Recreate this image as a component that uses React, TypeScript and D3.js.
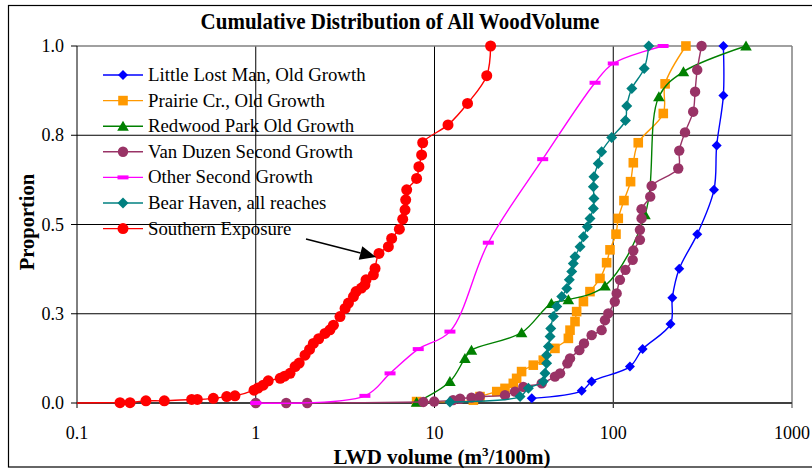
import React from "react";
import * as d3 from "d3";

type Pt = [number, number];

const xTicks = [0.1, 1, 10, 100, 1000];
const xTickLabels = ["0.1", "1", "10", "100", "1000"];
const yTicks = [0, 0.25, 0.5, 0.75, 1.0];
const yTickLabels = ["0.0", "0.3", "0.5", "0.8", "1.0"];

const littleLostMan: Pt[] = [
  [35, 0.013], [66.6, 0.034], [75.7, 0.06], [124, 0.102], [146, 0.151], [209, 0.221],
  [214, 0.295], [234, 0.376], [295, 0.473], [366, 0.597], [379, 0.721], [413, 0.861], [413, 1.0],
];
const prairieCr: Pt[] = [
  [7.94, 0.004], [16.5, 0.008], [17.97, 0.018], [22.3, 0.032], [24.8, 0.041], [27.6, 0.055],
  [28.8, 0.069], [30.7, 0.088], [35.7, 0.106], [40.6, 0.12], [47.2, 0.153], [56.1, 0.181],
  [57.3, 0.204], [61.1, 0.228], [62.4, 0.256], [68.1, 0.284], [74.1, 0.312], [84.3, 0.349],
  [91.8, 0.393], [95.9, 0.429], [103.6, 0.473], [106.7, 0.517], [114.8, 0.567], [125, 0.62],
  [129.5, 0.673], [138, 0.729], [190.5, 0.811], [195, 0.894], [255, 1.0],
];
const redwoodPark: Pt[] = [
  [7.94, 0.002], [12.2, 0.06], [14.8, 0.125], [16.1, 0.148], [30.7, 0.197], [45.1, 0.279],
  [56.1, 0.289], [89.9, 0.328], [150.5, 0.527], [180, 0.858], [247, 0.928], [553, 1.0],
];
const vanDuzen: Pt[] = [
  [1.0, 0], [1.48, 0], [1.94, 0], [8.66, 0.003], [9.96, 0.004], [12.7, 0.008], [13.9, 0.012],
  [16.1, 0.015], [17.9, 0.018], [24.8, 0.022], [28.2, 0.032], [31.4, 0.045], [39.8, 0.055],
  [47.2, 0.074], [50.4, 0.083], [55.4, 0.111], [57.3, 0.125], [64.6, 0.148], [68.6, 0.167],
  [75.7, 0.19], [86.1, 0.204], [89.9, 0.232], [93.8, 0.251], [102, 0.284], [104.5, 0.307],
  [109, 0.345], [117, 0.373], [128.5, 0.401], [129.5, 0.427], [141, 0.457], [141, 0.485],
  [144, 0.517], [144, 0.543], [161, 0.578], [164, 0.608], [231, 0.657], [234, 0.707],
  [252, 0.758], [280, 0.816], [287, 0.872], [295, 0.933], [312, 1.0],
];
const otherSecond: Pt[] = [
  [1.0, 0], [4.08, 0.02], [5.64, 0.083], [8.11, 0.151], [12.2, 0.2], [20.0, 0.449],
  [40.3, 0.683], [79.1, 0.897], [100, 0.951], [190, 1.0],
];
const bearHaven: Pt[] = [
  [12.2, 0.003], [30.1, 0.018], [33.5, 0.041], [40.6, 0.06], [41.5, 0.083], [42.4, 0.111],
  [42.4, 0.134], [43.4, 0.158], [44.3, 0.186], [44.7, 0.209], [46.2, 0.242], [48.3, 0.27],
  [51.5, 0.298], [55, 0.321], [56.8, 0.345], [58.6, 0.368], [59.8, 0.391], [61.1, 0.41],
  [65.2, 0.438], [68.1, 0.466], [71.6, 0.494], [74.1, 0.517], [77.4, 0.545], [78, 0.573],
  [77.4, 0.606], [78, 0.634], [82.4, 0.671], [86.1, 0.704], [98, 0.744], [117, 0.791],
  [119, 0.832], [127, 0.881], [149, 0.937], [158, 1.0],
];
const southernExposure: Pt[] = [
  [0.09, 0], [0.174, 0.001], [0.198, 0.001], [0.243, 0.006], [0.308, 0.006], [0.438, 0.01],
  [0.471, 0.01], [0.579, 0.013], [0.688, 0.018], [0.765, 0.02], [0.978, 0.036], [1.03, 0.042],
  [1.1, 0.05], [1.175, 0.062], [1.37, 0.069], [1.45, 0.075], [1.555, 0.083], [1.66, 0.102],
  [1.75, 0.112], [1.886, 0.134], [2.0, 0.15], [2.1, 0.167], [2.25, 0.18], [2.44, 0.195],
  [2.6, 0.205], [2.72, 0.218], [2.96, 0.242], [3.16, 0.265], [3.3, 0.28], [3.52, 0.298],
  [3.64, 0.312], [3.9, 0.322], [4.08, 0.331], [4.14, 0.345], [4.55, 0.359], [4.65, 0.377],
  [4.89, 0.419], [5.52, 0.438], [5.76, 0.461], [6.36, 0.487], [6.64, 0.515], [6.84, 0.541],
  [6.9, 0.569], [6.99, 0.597], [7.94, 0.629], [8.18, 0.662], [8.47, 0.695], [8.59, 0.729],
  [11.9, 0.779], [15.3, 0.839], [19.6, 0.917], [20.6, 1.0],
];

const seriesNames = [
  "Little Lost Man, Old Growth",
  "Prairie Cr., Old Growth",
  "Redwood Park Old Growth",
  "Van Duzen Second Growth",
  "Other Second Growth",
  "Bear Haven, all reaches",
  "Southern Exposure",
];
const seriesData = [littleLostMan, prairieCr, redwoodPark, vanDuzen, otherSecond, bearHaven, southernExposure];
const seriesColors = ["#0000FF", "#FF9900", "#008000", "#993366", "#FF00FF", "#008080", "#FF0000"];
const seriesMarkers = ["diamond", "square", "triangle", "circle", "dash", "diamondL", "circleL"];

const W = 812;
const H = 468;
const plot = { left: 77, right: 792, top: 46, bottom: 403 };

const x = d3.scaleLog().domain([0.1, 1000]).range([plot.left, plot.right]);
const y = d3.scaleLinear().domain([0, 1]).range([plot.bottom, plot.top]);

function markerPath(kind: string): string {
  switch (kind) {
    case "diamond":
      return "M0,-5L5,0L0,5L-5,0Z";
    case "diamondL":
      return "M0,-5.5L5.5,0L0,5.5L-5.5,0Z";
    case "square":
      return "M-4.8,-4.8H4.8V4.8H-4.8Z";
    case "triangle":
      return "M0,-5.5L5.8,4.5L-5.8,4.5Z";
    case "circle":
      return d3.symbol().type(d3.symbolCircle).size(Math.PI * 5.2 * 5.2)()!;
    case "circleL":
      return d3.symbol().type(d3.symbolCircle).size(Math.PI * 5.5 * 5.5)()!;
    case "dash":
      return "M-5.5,-2H5.5V2H-5.5Z";
  }
  return "";
}

const line = d3
  .line<Pt>()
  .x((d) => x(d[0]))
  .y((d) => y(d[1]))
  .curve(d3.curveCatmullRom.alpha(0.5));

export default function App() {
  const serif = "'Liberation Serif', 'Times New Roman', serif";
  const legendY0 = 75;
  const legendStep = 25.6;
  // arrow
  const ax1 = 306, ay1 = 239, ax2 = 376, ay2 = 257;
  const ang = Math.atan2(ay2 - ay1, ax2 - ax1);
  const headL = 16, headW = 7;
  const bx = ax2 - headL * Math.cos(ang), by = ay2 - headL * Math.sin(ang);
  const px = -Math.sin(ang) * headW, py = Math.cos(ang) * headW;

  return (
    <svg
      width={W}
      height={H}
      style={{ position: "absolute", left: 0, top: 0, background: "#fff" }}
      fontFamily={serif}
    >
      <defs>
        <clipPath id="plotclip">
          <rect x={plot.left} y={plot.top - 10} width={plot.right - plot.left} height={plot.bottom - plot.top + 20} />
        </clipPath>
      </defs>
      <rect x={0} y={0} width={W} height={H} fill="#fff" />
      <rect x={8.5} y={5.5} width={W} height={461.5} fill="none" stroke="#000" strokeWidth={1.2} />

      {/* title */}
      <text
        x={400}
        y={29}
        textAnchor="middle"
        fontWeight="bold"
        fontSize={21}
        transform="translate(0,29) scale(1,1.12) translate(0,-29)"
      >
        Cumulative Distribution of All WoodVolume
      </text>

      {/* gridlines */}
      {xTicks.slice(1, -1).map((t) => (
        <line key={"gx" + t} x1={x(t)} x2={x(t)} y1={plot.top} y2={plot.bottom + 5} stroke="#000" strokeWidth={1} />
      ))}
      {yTicks.slice(1, -1).map((t) => (
        <line key={"gy" + t} x1={plot.left - 6} x2={plot.right} y1={y(t)} y2={y(t)} stroke="#000" strokeWidth={1} />
      ))}
      {/* plot border top/right */}
      <line x1={plot.left} x2={plot.right} y1={plot.top} y2={plot.top} stroke="#808080" strokeWidth={1.5} />
      <line x1={plot.right} x2={plot.right} y1={plot.top} y2={plot.bottom + 5} stroke="#808080" strokeWidth={1.5} />
      {/* y axis */}
      <line x1={plot.left} x2={plot.left} y1={plot.top} y2={plot.bottom + 5} stroke="#000" strokeWidth={1} />
      <line x1={plot.left - 6} x2={plot.left} y1={plot.top} y2={plot.top} stroke="#000" strokeWidth={1} />
      <line x1={plot.left - 6} x2={plot.left} y1={plot.bottom} y2={plot.bottom} stroke="#000" strokeWidth={1} />
      {/* x axis */}
      <line x1={plot.left} x2={plot.right} y1={plot.bottom} y2={plot.bottom} stroke="#404040" strokeWidth={2.2} />

      {/* tick labels */}
      {yTicks.map((t, i) => (
        <text key={"yl" + t} x={64} y={y(t) + 6} textAnchor="end" fontSize={18}>
          {yTickLabels[i]}
        </text>
      ))}
      {xTicks.map((t, i) => (
        <text key={"xl" + t} x={x(t)} y={439} textAnchor="middle" fontSize={18}>
          {xTickLabels[i]}
        </text>
      ))}

      {/* axis titles */}
      <text x={442} y={464} textAnchor="middle" fontWeight="bold" fontSize={21}>
        LWD volume (m
        <tspan dy={-8} fontSize={13}>3</tspan>
        <tspan dy={8}>/100m)</tspan>
      </text>
      <text
        transform="translate(34,222) rotate(-90)"
        textAnchor="middle"
        fontWeight="bold"
        fontSize={20.5}
      >
        Proportion
      </text>

      {/* series */}
      {seriesData.map((data, si) => (
        <g key={"s" + si}>
          <path
            d={line(data)!}
            fill="none"
            stroke={seriesColors[si]}
            strokeWidth={1.4}
            clipPath="url(#plotclip)"
          />
          {data
            .filter((d) => d[0] >= 0.1)
            .map((d, j) => (
              <path
                key={j}
                d={markerPath(seriesMarkers[si])}
                transform={`translate(${x(d[0])},${y(d[1])})`}
                fill={seriesColors[si]}
              />
            ))}
        </g>
      ))}

      {/* legend */}
      {seriesNames.map((name, i) => {
        const ly = legendY0 + i * legendStep;
        return (
          <g key={"lg" + i}>
            <line x1={103} x2={143} y1={ly} y2={ly} stroke={seriesColors[i]} strokeWidth={1.4} />
            <path d={markerPath(seriesMarkers[i])} transform={`translate(123,${ly})`} fill={seriesColors[i]} />
            <text x={148} y={ly + 6} fontSize={18.8}>
              {name}
            </text>
          </g>
        );
      })}

      {/* arrow */}
      <line x1={ax1} y1={ay1} x2={bx} y2={by} stroke="#000" strokeWidth={1.6} />
      <path d={`M${ax2},${ay2}L${bx + px},${by + py}L${bx - px},${by - py}Z`} fill="#000" />
    </svg>
  );
}
